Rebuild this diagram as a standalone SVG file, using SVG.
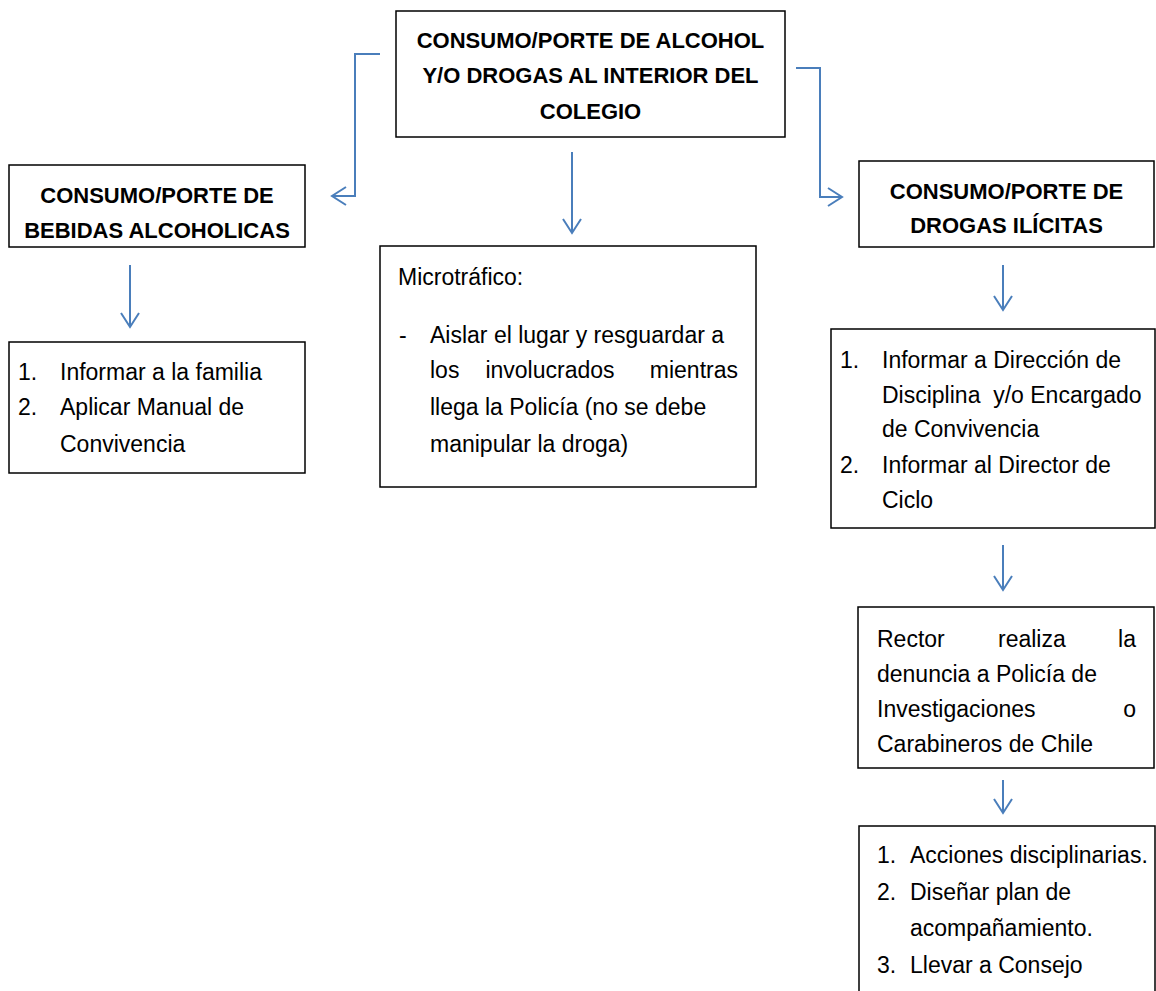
<svg xmlns="http://www.w3.org/2000/svg" width="1156" height="991" viewBox="0 0 1156 991">
<style>
.box{fill:#fff;stroke:#000;stroke-width:1.5}
.t{font-family:"Liberation Sans",Arial,sans-serif;font-size:23px;fill:#000}
.b{font-family:"Liberation Sans",Arial,sans-serif;font-size:22px;font-weight:bold;fill:#000;text-anchor:middle}
.c{fill:none;stroke:#4A7EBB;stroke-width:2}
.e{text-anchor:end}
.m{text-anchor:middle}
</style>
<defs>
<marker id="ah" markerUnits="userSpaceOnUse" markerWidth="18" markerHeight="22" viewBox="0 0 18 22" refX="16" refY="11" orient="auto">
<path d="M2,2 L16,11 L2,20" fill="none" stroke="#4A7EBB" stroke-width="2"/>
</marker>
</defs>
<rect width="1156" height="991" fill="#fff"/>
<g id="connectors">
<path class="c" d="M380,54 H355 V196 H332" marker-end="url(#ah)"/>
<path class="c" d="M796,68 H820 V197 H842" marker-end="url(#ah)"/>
<path class="c" d="M572,152 V233" marker-end="url(#ah)"/>
<path class="c" d="M130,265 V327" marker-end="url(#ah)"/>
<path class="c" d="M1003,265 V310" marker-end="url(#ah)"/>
<path class="c" d="M1003,545 V590" marker-end="url(#ah)"/>
<path class="c" d="M1003,780 V813" marker-end="url(#ah)"/>
</g>
<g id="top">
<rect class="box" x="396" y="11" width="389" height="126"/>
<text class="b" x="590.5" y="48" font-size="21">CONSUMO/PORTE DE ALCOHOL</text>
<text class="b" x="590.5" y="83" font-size="21">Y/O DROGAS AL INTERIOR DEL</text>
<text class="b" x="590.5" y="119" font-size="21">COLEGIO</text>
</g>
<g id="alcohol">
<rect class="box" x="9" y="165" width="296" height="82"/>
<text class="b" x="157" y="203">CONSUMO/PORTE DE</text>
<text class="b" x="157" y="238">BEBIDAS ALCOHOLICAS</text>
</g>
<g id="alcohol-actions">
<rect class="box" x="9" y="342" width="296" height="131"/>
<text class="t" x="18" y="380">1.</text><text class="t" x="60" y="380">Informar a la familia</text>
<text class="t" x="18" y="415">2.</text><text class="t" x="60" y="415">Aplicar Manual de</text>
<text class="t" x="60" y="452">Convivencia</text>
</g>
<g id="microtrafico">
<rect class="box" x="380" y="246" width="376" height="241"/>
<text class="t" x="398" y="285">Microtráfico:</text>
<text class="t" x="399" y="343">-</text>
<text class="t" x="430" y="343">Aislar el lugar y resguardar a</text>
<text class="t" x="430" y="378">los</text><text class="t m" x="550" y="378">involucrados</text><text class="t e" x="738" y="378">mientras</text>
<text class="t" x="430" y="415">llega la Policía (no se debe</text>
<text class="t" x="430" y="452">manipular la droga)</text>
</g>
<g id="drogas">
<rect class="box" x="859" y="161" width="295" height="86"/>
<text class="b" x="1006.5" y="199">CONSUMO/PORTE DE</text>
<text class="b" x="1006.5" y="233">DROGAS ILÍCITAS</text>
</g>
<g id="drogas-informar">
<rect class="box" x="831" y="329" width="324" height="199"/>
<text class="t" x="840" y="368">1.</text><text class="t" x="882" y="368">Informar a Dirección de</text>
<text class="t" x="882" y="403" xml:space="preserve">Disciplina  y/o Encargado</text>
<text class="t" x="882" y="437">de Convivencia</text>
<text class="t" x="840" y="473">2.</text><text class="t" x="882" y="473">Informar al Director de</text>
<text class="t" x="882" y="508">Ciclo</text>
</g>
<g id="rector">
<rect class="box" x="858" y="607" width="296" height="161"/>
<text class="t" x="877" y="647">Rector</text><text class="t" x="998" y="647">realiza</text><text class="t e" x="1136" y="647">la</text>
<text class="t" x="877" y="682">denuncia a Policía de</text>
<text class="t" x="877" y="717">Investigaciones</text><text class="t e" x="1136" y="717">o</text>
<text class="t" x="877" y="752">Carabineros de Chile</text>
</g>
<g id="acciones">
<rect class="box" x="859" y="826" width="296" height="180"/>
<text class="t" x="877" y="863">1.</text><text class="t" x="910" y="863">Acciones disciplinarias.</text>
<text class="t" x="877" y="900">2.</text><text class="t" x="910" y="900">Diseñar plan de</text>
<text class="t" x="910" y="936">acompañamiento.</text>
<text class="t" x="877" y="973">3.</text><text class="t" x="910" y="973">Llevar a Consejo</text>
</g>
</svg>
